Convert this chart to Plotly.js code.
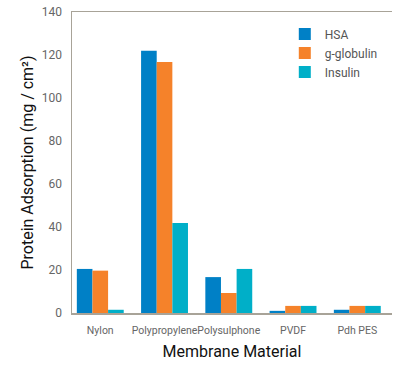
<!DOCTYPE html>
<html>
<head>
<meta charset="utf-8">
<script src="https://cdn.plot.ly/plotly-3.0.1.min.js"></script>
<style>html,body{margin:0;padding:0;background:#fff;}#chart{width:393px;height:368px;}</style>
</head>
<body>
<div id="chart"></div>
<script>
const categories = ["Nylon", "Polypropylene", "Polysulphone", "PVDF", "Pdh PES"];
const hsa = [20.5, 122, 16.7, 1, 1.5];
const gGlobulin = [19.7, 116.7, 9.3, 3.3, 3.3];
const insulin = [1.5, 41.9, 20.5, 3.3, 3.3];
const seriesNames = ["HSA", "g-globulin", "Insulin"];
const colors = ["#0080C6", "#F5822A", "#00AFC8"];

const series = [hsa, gGlobulin, insulin];
const data = series.map((vals, i) => ({
  type: "bar",
  name: seriesNames[i],
  x: categories,
  y: vals,
  marker: {color: colors[i], line: {width: 0}},
  hoverinfo: "none"
}));

const font = "Roboto, 'DejaVu Sans', sans-serif";
const layout = {
  width: 393, height: 368,
  margin: {l: 72, r: 1, t: 12, b: 55},
  paper_bgcolor: "#fff", plot_bgcolor: "#fff",
  barmode: "group",
  bargap: 0.27, bargroupgap: 0,
  showlegend: true,
  legend: {x: 0.665, y: 0.975, xanchor: "left", yanchor: "top",
    font: {family: font, size: 12, color: "#555"}, itemwidth: 30,
    tracegroupgap: 0, bgcolor: "rgba(0,0,0,0)"},
  xaxis: {
    type: "category",
    range: [-0.44, 4.54],
    showline: true, linecolor: "#a8a398", linewidth: 1.5, mirror: true,
    showgrid: false, zeroline: false,
    tickangle: 0,
    ticks: "outside", ticklen: 7, tickcolor: "rgba(0,0,0,0)",
    tickfont: {family: font, size: 10.5, color: "#666"},
    title: {text: "Membrane Material", font: {family: font, size: 16, color: "#111"}, standoff: 9}
  },
  yaxis: {
    range: [0, 140], dtick: 20,
    showline: true, linecolor: "#a8a398", linewidth: 1.5,
    showgrid: false, zeroline: false,
    ticks: "outside", ticklen: 6, tickcolor: "rgba(0,0,0,0)",
    tickfont: {family: font, size: 12, color: "#666"},
    title: {text: "Protein Adsorption (mg / cm²)", font: {family: font, size: 16, color: "#111"}, standoff: 4}
  }
};

Plotly.newPlot("chart", data, layout, {displayModeBar: false, staticPlot: true});
</script>
</body>
</html>
